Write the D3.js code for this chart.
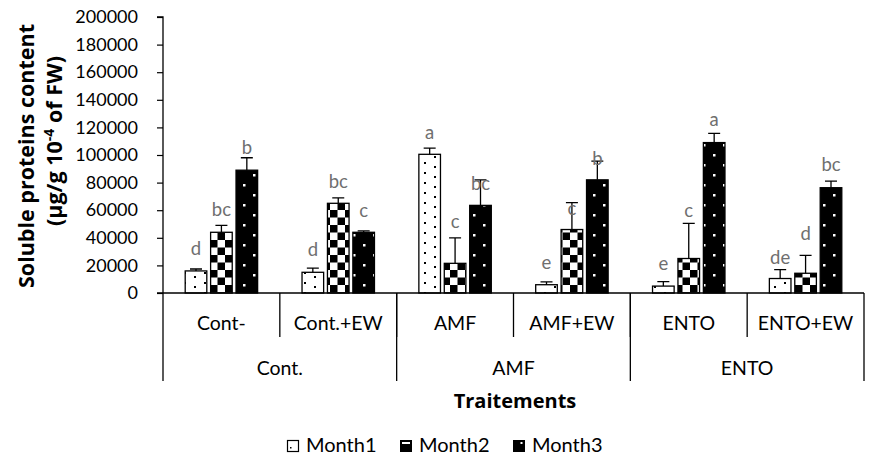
<!DOCTYPE html>
<html>
<head>
<meta charset="utf-8">
<script src="https://cdn.jsdelivr.net/npm/d3@7"></script>
<style>
  html, body { margin: 0; padding: 0; background: #fff; }
  svg { display: block; font-family: Lato, "Open Sans", sans-serif; }
</style>
</head>
<body>
<svg id="chart" width="869" height="464"></svg>
<script>
// Treatments (inner axis row) and their groups (outer axis row)
const categories = ["Cont-", "Cont.+EW", "AMF", "AMF+EW", "ENTO", "ENTO+EW"];
const groups = ["Cont.", "AMF", "ENTO"];
const groupSpan = [2, 2, 2];
const months = ["Month1", "Month2", "Month3"];

// Soluble proteins content per treatment, one array per month
const month1 = [16000, 15000, 100500, 6000, 5000, 10500];
const month2 = [44000, 65000, 21500, 46000, 25000, 14300];
const month3 = [89000, 44000, 63500, 82000, 109000, 76300];

// Upper error bar half-lengths (standard error)
const month1Err = [1400, 3000, 4500, 2000, 3200, 6500];
const month2Err = [5000, 4000, 18500, 19500, 25500, 13000];
const month3Err = [9000, 1000, 18500, 13600, 6700, 4700];

// Significance letters
const month1Letters = ["d", "d", "a", "e", "e", "de"];
const month2Letters = ["bc", "bc", "c", "c", "c", "d"];
const month3Letters = ["b", "c", "bc", "b", "a", "bc"];

const yTicks = [0, 20000, 40000, 60000, 80000, 100000, 120000, 140000, 160000, 180000, 200000];

const values = [month1, month2, month3];
const errors = [month1Err, month2Err, month3Err];
const letters = [month1Letters, month2Letters, month3Letters];

// ---- layout ----
const svg = d3.select("#chart");
const plotLeft = 163, plotRight = 864, plotTop = 17, plotBase = 293;
const boldFont = "'Open Sans', Lato, sans-serif";

// distance (px) between the letter baseline and the error bar top
const letterGap = [
  [14, 12, 9, 13, 12, 6],
  [9, 10, 10, -12, 6, 15],
  [4, 14, -10, -4, 7, 10]
];

const y = d3.scaleLinear().domain([0, 200000]).range([plotBase, plotTop]);
const x0 = d3.scaleBand().domain(categories).range([plotLeft, plotRight]).padding(0);
const bw = x0.bandwidth();
const x1 = d3.scaleBand().domain(months).range([bw * 0.19, bw * 0.81]).paddingInner(0.15);

// ---- fill patterns ----
const defs = svg.append("defs");
const p1 = defs.append("pattern").attr("id", "pat-m1").attr("patternUnits", "userSpaceOnUse")
  .attr("width", 20).attr("height", 10);
p1.append("rect").attr("width", 20).attr("height", 10).attr("fill", "#fff");
p1.append("rect").attr("x", 4).attr("y", 2).attr("width", 2).attr("height", 2).attr("fill", "#000");
p1.append("rect").attr("x", 14).attr("y", 6).attr("width", 2).attr("height", 2).attr("fill", "#000");

const p2 = defs.append("pattern").attr("id", "pat-m2").attr("patternUnits", "userSpaceOnUse")
  .attr("width", 15).attr("height", 15);
p2.append("rect").attr("width", 15).attr("height", 15).attr("fill", "#fff");
p2.append("rect").attr("width", 7.5).attr("height", 7.5).attr("fill", "#000");
p2.append("rect").attr("x", 7.5).attr("y", 7.5).attr("width", 7.5).attr("height", 7.5).attr("fill", "#000");

const p3 = defs.append("pattern").attr("id", "pat-m3").attr("patternUnits", "userSpaceOnUse")
  .attr("width", 20).attr("height", 20);
p3.append("rect").attr("width", 20).attr("height", 20).attr("fill", "#000");
p3.append("rect").attr("x", 3).attr("y", 4).attr("width", 2.5).attr("height", 2.5).attr("fill", "#fff");
p3.append("rect").attr("x", 13).attr("y", 14).attr("width", 2.5).attr("height", 2.5).attr("fill", "#fff");

const fills = ["url(#pat-m1)", "url(#pat-m2)", "url(#pat-m3)"];

// ---- y axis ----
const yAxis = d3.axisLeft(y).tickValues(yTicks).tickSize(6).tickPadding(19)
  .tickFormat(d3.format("d"));
const gy = svg.append("g").attr("transform", `translate(${plotLeft},0)`).call(yAxis);
gy.select(".domain").attr("stroke", "#000").attr("stroke-width", 1.3).attr("d", `M-6,${plotTop}H0V${plotBase}`);
gy.selectAll(".tick line").attr("stroke", "#000").attr("stroke-width", 1.2);
gy.selectAll(".tick text").attr("fill", "#000").style("font-size", "18px")
  .style("font-family", "Lato, sans-serif");

// y axis title (two lines, rotated)
const yTitle = svg.append("text")
  .attr("transform", "translate(0,156) rotate(-90)")
  .attr("text-anchor", "middle")
  .style("font-family", boldFont)
  .style("font-weight", "bold").style("font-size", "21.5px").attr("fill", "#000");
yTitle.append("tspan").attr("x", 0).attr("y", 34).text("Soluble proteins content");
const l2 = yTitle.append("tspan").attr("x", 15).attr("y", 62);
l2.append("tspan").text("(µg/g 10");
l2.append("tspan").attr("dy", -8).style("font-size", "14px").text("-4");
l2.append("tspan").attr("dy", 8).text(" of FW)");

// ---- bars ----
const cells = [];
categories.forEach((c, i) => {
  months.forEach((m, k) => {
    cells.push({ c, m, k, v: values[k][i], e: errors[k][i], t: letters[k][i], g: letterGap[k][i] });
  });
});

const gBars = svg.append("g");
gBars.selectAll("rect.bar").data(cells).join("rect")
  .attr("class", "bar")
  .attr("x", d => x0(d.c) + x1(d.m))
  .attr("y", d => y(d.v))
  .attr("width", x1.bandwidth())
  .attr("height", d => plotBase - y(d.v))
  .attr("fill", d => fills[d.k])
  .attr("stroke", "#000").attr("stroke-width", 1.3);

// upper error bars
const cap = 6;
const gErr = svg.append("g").attr("stroke", "#000").attr("stroke-width", 1.3).attr("fill", "none");
gErr.selectAll("path").data(cells).join("path")
  .attr("d", d => {
    const cx = x0(d.c) + x1(d.m) + x1.bandwidth() / 2;
    return `M${cx},${y(d.v)}V${y(d.v + d.e)}M${cx - cap},${y(d.v + d.e)}H${cx + cap}`;
  });

// significance letters
svg.append("g").selectAll("text").data(cells).join("text")
  .attr("x", d => x0(d.c) + x1(d.m) + x1.bandwidth() / 2)
  .attr("y", d => y(d.v + d.e) - d.g)
  .attr("text-anchor", "middle")
  .style("font-size", "18.5px").attr("fill", "#6f6f6f")
  .text(d => d.t);

// ---- x axis (two-level category axis) ----
const gx = svg.append("g").attr("stroke", "#000").attr("stroke-width", 1.3);
gx.append("line").attr("x1", plotLeft - 6).attr("x2", plotRight).attr("y1", plotBase).attr("y2", plotBase);
// dividers between treatments
categories.forEach((c, i) => {
  if (i === 0) return;
  gx.append("line").attr("x1", x0(c)).attr("x2", x0(c)).attr("y1", plotBase).attr("y2", 337);
});
// dividers between groups (and outer edges)
let acc = 0;
const groupEdges = [x0(categories[0])];
groupSpan.forEach(s => { acc += s; groupEdges.push(acc < categories.length ? x0(categories[acc]) : plotRight); });
groupEdges.forEach(xe => {
  gx.append("line").attr("x1", xe).attr("x2", xe).attr("y1", plotBase).attr("y2", 381);
});

svg.append("g").selectAll("text").data(categories).join("text")
  .attr("x", d => x0(d) + bw / 2).attr("y", 330)
  .attr("text-anchor", "middle").style("font-size", "19.5px").attr("fill", "#000")
  .text(d => d);

svg.append("g").selectAll("text").data(groups).join("text")
  .attr("x", (d, i) => (groupEdges[i] + groupEdges[i + 1]) / 2).attr("y", 375)
  .attr("text-anchor", "middle").style("font-size", "19.5px").attr("fill", "#000")
  .text(d => d);

svg.append("text").attr("x", 515).attr("y", 408).attr("text-anchor", "middle")
  .style("font-family", boldFont)
  .style("font-size", "20px").style("font-weight", "bold").attr("fill", "#000")
  .text("Traitements");

// ---- legend ----
const legX = [287, 400, 513];
const leg = svg.append("g").selectAll("g").data(months).join("g")
  .attr("transform", (d, i) => `translate(${legX[i]},440)`);
leg.each(function (d, i) {
  const g = d3.select(this);
  if (i === 0) {
    g.append("rect").attr("x", 0.5).attr("y", 0.5).attr("width", 11).attr("height", 11)
      .attr("fill", "#fff").attr("stroke", "#000").attr("stroke-width", 1.2);
    g.append("rect").attr("x", 3).attr("y", 7).attr("width", 1.5).attr("height", 1.5).attr("fill", "#000");
  } else if (i === 1) {
    g.append("rect").attr("width", 12).attr("height", 12).attr("fill", "#000");
    g.append("rect").attr("x", 2).attr("y", 2).attr("width", 8).attr("height", 2).attr("fill", "#fff");
  } else {
    g.append("rect").attr("width", 12).attr("height", 12).attr("fill", "#000");
    g.append("rect").attr("x", 7.5).attr("y", 2).attr("width", 2).attr("height", 2).attr("fill", "#fff");
  }
  g.append("text").attr("x", 19).attr("y", 11.5).style("font-size", "20px").attr("fill", "#000").text(d);
});
</script>
</body>
</html>
